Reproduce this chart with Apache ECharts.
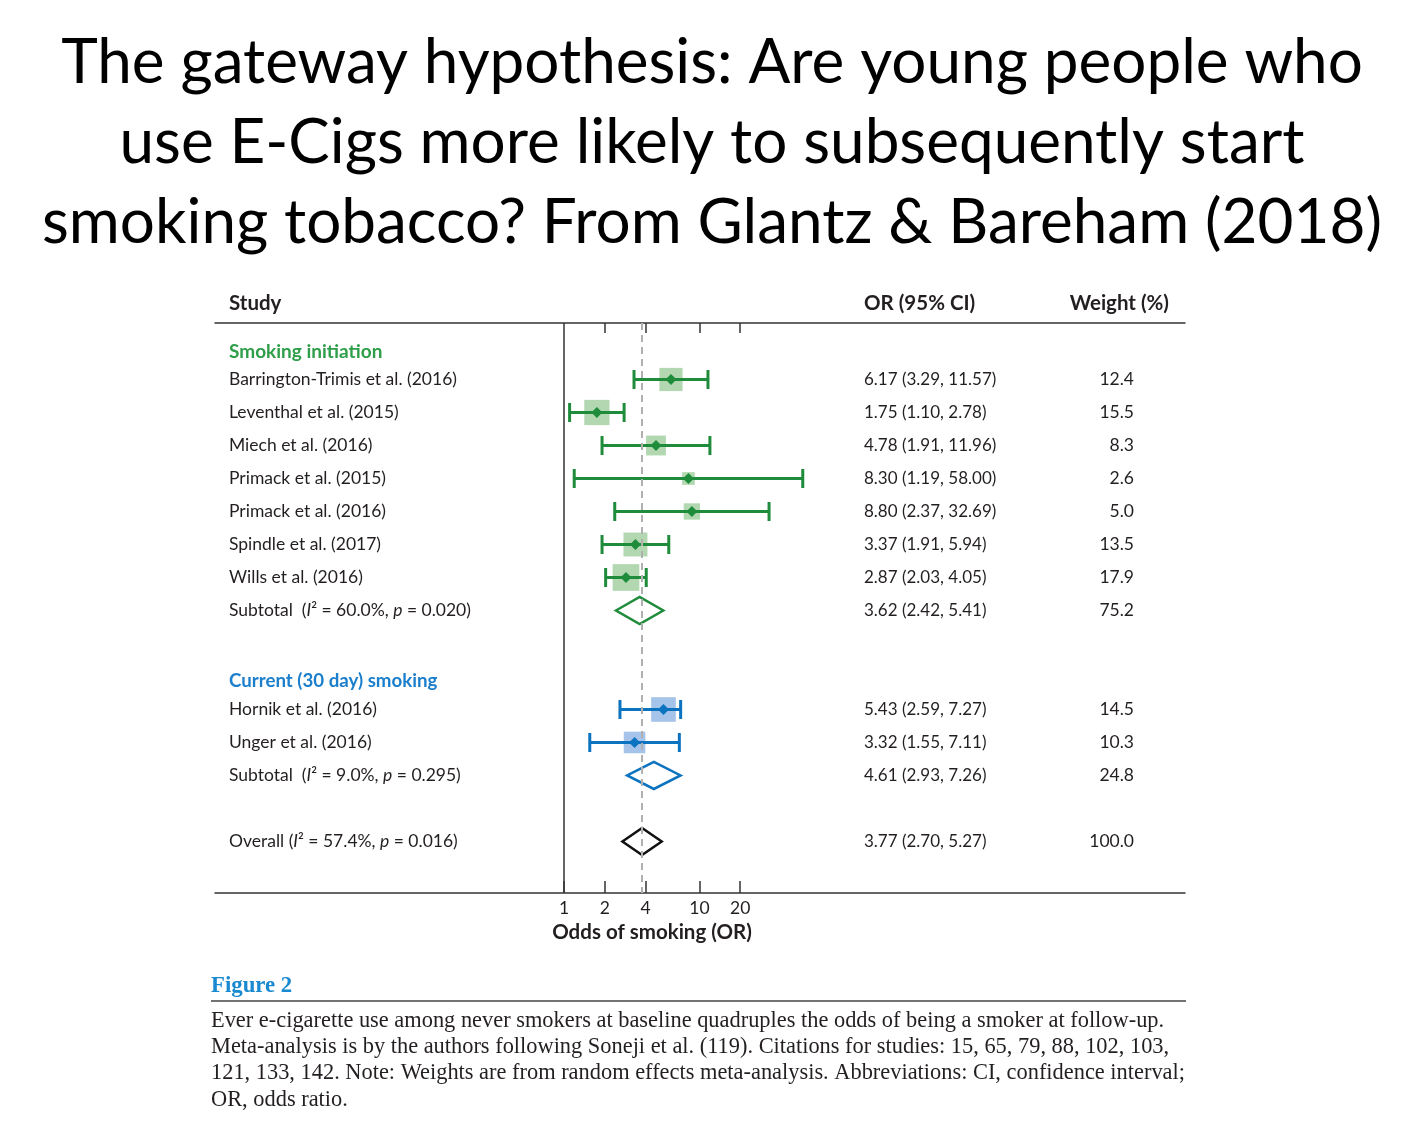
<!DOCTYPE html>
<html>
<head>
<meta charset="utf-8">
<script src="https://cdn.jsdelivr.net/npm/echarts@6/dist/echarts.min.js"></script>
<style>
html,body{margin:0;padding:0;background:#fff;}
#chart{width:1424px;height:1124px;}
</style>
</head>
<body>
<div id="chart"></div>
<script>
// ---------- DATA ----------
const titleLines = [
  'The gateway hypothesis: Are young people who',
  'use E-Cigs more likely to subsequently start',
  'smoking tobacco? From Glantz & Bareham (2018)'
];
const groupTitles = ['Smoking initiation', 'Current (30 day) smoking'];

const initStudies = ['Barrington-Trimis et al. (2016)', 'Leventhal et al. (2015)', 'Miech et al. (2016)',
  'Primack et al. (2015)', 'Primack et al. (2016)', 'Spindle et al. (2017)', 'Wills et al. (2016)'];
const initOR = [6.17, 1.75, 4.78, 8.30, 8.80, 3.37, 2.87];
const initLo = [3.29, 1.10, 1.91, 1.19, 2.37, 1.91, 2.03];
const initHi = [11.57, 2.78, 11.96, 58.00, 32.69, 5.94, 4.05];
const initWeight = [12.4, 15.5, 8.3, 2.6, 5.0, 13.5, 17.9];

const currStudies = ['Hornik et al. (2016)', 'Unger et al. (2016)'];
const currOR = [5.43, 3.32];
const currLo = [2.59, 1.55];
const currHi = [7.27, 7.11];
const currWeight = [14.5, 10.3];

const pooledNames = ['Subtotal', 'Subtotal', 'Overall'];
const pooledI2 = ['60.0%', '9.0%', '57.4%'];
const pooledP = ['0.020', '0.295', '0.016'];
const pooledOR = [3.62, 4.61, 3.77];
const pooledLo = [2.42, 2.93, 2.70];
const pooledHi = [5.41, 7.26, 5.27];
const pooledWeight = [75.2, 24.8, 100.0];

const xTicks = [1, 2, 4, 10, 20];
const xTopTicks = [2, 4, 10, 20];
const xAxisName = 'Odds of smoking (OR)';
const headers = ['Study', 'OR (95% CI)', 'Weight (%)'];

const figureLabel = 'Figure 2';
const captionLines = [
  'Ever e-cigarette use among never smokers at baseline quadruples the odds of being a smoker at follow-up.',
  'Meta-analysis is by the authors following Soneji et al. (119). Citations for studies: 15, 65, 79, 88, 102, 103,',
  '121, 133, 142. Note: Weights are from random effects meta-analysis. Abbreviations: CI, confidence interval;',
  'OR, odds ratio.'
];

// ---------- STYLE ----------
const TXT = '#231f20';
const GREEN = '#1f8c3c', GREEN_FILL = '#b3d8b1', GREEN_HEAD = '#2e9e49';
const BLUE = '#0b73bf', BLUE_FILL = '#a6c4e9', BLUE_HEAD = '#1b7fcc';
const TFONT = 'Lato';
const TSIZE = 17.5;
const HEAD_SHIFT = 0.15; // group headings sit slightly lower than their row

// ---------- ROW LAYOUT (built from data) ----------
const rowLabel = {}, rowOR = {}, rowW = {};
const studyData = [];   // [or, lo, hi, row, weight, group]
const pooledData = [];  // [or, lo, hi, row, group]
function fmtCI(o, l, h) { return o.toFixed(2) + ' (' + l.toFixed(2) + ', ' + h.toFixed(2) + ')'; }
function pooledLabel(i) {
  return '{t|' + pooledNames[i] + (i === 2 ? ' ' : '  ') + '(}{i|I}{t|² = ' + pooledI2[i] + ', }{i|p}{t| = ' + pooledP[i] + ')}';
}
let r = 0;
rowLabel[r + HEAD_SHIFT] = '{ga|' + groupTitles[0] + '}'; r++;
initStudies.forEach((s, i) => {
  rowLabel[r] = '{t|' + s + '}';
  rowOR[r] = fmtCI(initOR[i], initLo[i], initHi[i]);
  rowW[r] = initWeight[i].toFixed(1);
  studyData.push([initOR[i], initLo[i], initHi[i], r, initWeight[i], 0]);
  r++;
});
rowLabel[r] = pooledLabel(0); rowOR[r] = fmtCI(pooledOR[0], pooledLo[0], pooledHi[0]); rowW[r] = pooledWeight[0].toFixed(1);
pooledData.push([pooledOR[0], pooledLo[0], pooledHi[0], r, 0]); r++;
r++; // blank
rowLabel[r + HEAD_SHIFT] = '{gb|' + groupTitles[1] + '}'; r++;
currStudies.forEach((s, i) => {
  rowLabel[r] = '{t|' + s + '}';
  rowOR[r] = fmtCI(currOR[i], currLo[i], currHi[i]);
  rowW[r] = currWeight[i].toFixed(1);
  studyData.push([currOR[i], currLo[i], currHi[i], r, currWeight[i], 1]);
  r++;
});
rowLabel[r] = pooledLabel(1); rowOR[r] = fmtCI(pooledOR[1], pooledLo[1], pooledHi[1]); rowW[r] = pooledWeight[1].toFixed(1);
pooledData.push([pooledOR[1], pooledLo[1], pooledHi[1], r, 1]); r++;
r++; // blank
rowLabel[r] = pooledLabel(2); rowOR[r] = fmtCI(pooledOR[2], pooledLo[2], pooledHi[2]); rowW[r] = pooledWeight[2].toFixed(1);
pooledData.push([pooledOR[2], pooledLo[2], pooledHi[2], r, 2]); r++;

const labelRows = Object.keys(rowLabel).map(Number);
const orRows = Object.keys(rowOR).map(Number);
const wRows = Object.keys(rowW).map(Number);

// ---------- CHART ----------
const chart = echarts.init(document.getElementById('chart'), null, { renderer: 'canvas' });

const X_MIN = 0.002645, X_MAX = 38600;
const Y_MIN = -0.712, Y_MAX = 16.561;

const rich = {
  t: { fontFamily: TFONT, fontSize: TSIZE, color: TXT },
  i: { fontFamily: TFONT, fontSize: TSIZE, color: TXT, fontStyle: 'italic' },
  ga: { fontFamily: TFONT, fontSize: 19, color: GREEN_HEAD, fontWeight: 'bold' },
  gb: { fontFamily: TFONT, fontSize: 18.7, color: BLUE_HEAD, fontWeight: 'bold' }
};

function yBase(extra) {
  return Object.assign({
    type: 'value', inverse: true, min: Y_MIN, max: Y_MAX,
    axisLine: { show: false }, axisTick: { show: false }, splitLine: { show: false }
  }, extra);
}

function renderStudy(params, api) {
  const o = api.value(0), lo = api.value(1), hi = api.value(2), row = api.value(3), w = api.value(4), g = api.value(5);
  const c = api.coord([o, row]);
  const L = api.coord([lo, row]);
  const H = api.coord([hi, row]);
  const s = 8.8 * Math.pow(w, 0.385);
  const col = g === 0 ? GREEN : BLUE;
  const fill = g === 0 ? GREEN_FILL : BLUE_FILL;
  const d = 5.5, cap = 9.5;
  return {
    type: 'group',
    children: [
      { type: 'rect', shape: { x: c[0] - s / 2, y: c[1] - s / 2, width: s, height: s }, style: { fill: fill } },
      { type: 'line', shape: { x1: L[0], y1: L[1], x2: H[0], y2: H[1] }, style: { stroke: col, lineWidth: 3 } },
      { type: 'line', shape: { x1: L[0], y1: L[1] - cap, x2: L[0], y2: L[1] + cap }, style: { stroke: col, lineWidth: 3 } },
      { type: 'line', shape: { x1: H[0], y1: H[1] - cap, x2: H[0], y2: H[1] + cap }, style: { stroke: col, lineWidth: 3 } },
      { type: 'polygon', shape: { points: [[c[0] - d, c[1]], [c[0], c[1] - d], [c[0] + d, c[1]], [c[0], c[1] + d]] }, style: { fill: col } }
    ]
  };
}

function renderPooled(params, api) {
  const o = api.value(0), lo = api.value(1), hi = api.value(2), row = api.value(3), g = api.value(4);
  const c = api.coord([o, row]);
  const L = api.coord([lo, row]);
  const H = api.coord([hi, row]);
  const h = 13.5;
  const col = g === 0 ? GREEN : (g === 1 ? BLUE : '#111');
  return {
    type: 'polygon',
    shape: { points: [[L[0], L[1]], [c[0], c[1] - h], [H[0], H[1]], [c[0], c[1] + h]] },
    style: { fill: '#fff', stroke: col, lineWidth: 2.5 }
  };
}

const graphics = [];
titleLines.forEach((t, i) => {
  graphics.push({ type: 'text', x: 712, y: 63 + i * 80, style: { text: t, font: '62px Lato', fill: '#000', align: 'center', verticalAlign: 'middle' } });
});
graphics.push(
  { type: 'text', x: 229, y: 303, style: { text: headers[0], font: 'bold 20.5px ' + TFONT, fill: TXT, align: 'left', verticalAlign: 'middle' } },
  { type: 'text', x: 864, y: 303, style: { text: headers[1], font: 'bold 20.5px ' + TFONT, fill: TXT, align: 'left', verticalAlign: 'middle' } },
  { type: 'text', x: 1169, y: 303, style: { text: headers[2], font: 'bold 20.5px ' + TFONT, fill: TXT, align: 'right', verticalAlign: 'middle' } },
  { type: 'text', x: 652, y: 932, style: { text: xAxisName, font: 'bold 20.5px ' + TFONT, fill: TXT, align: 'center', verticalAlign: 'middle' } },
  { type: 'text', x: 211, y: 986, style: { text: figureLabel, font: 'bold 22.8px "Liberation Serif"', fill: '#1a8ad0', align: 'left', verticalAlign: 'middle' } },
  { type: 'line', shape: { x1: 211, y1: 1001, x2: 1186, y2: 1001 }, style: { stroke: '#444', lineWidth: 1.5 } }
);
captionLines.forEach((t, i) => {
  graphics.push({ type: 'text', x: 211, y: 1021 + i * 26.3, style: { text: t, font: '22.4px "Liberation Serif"', fill: TXT, align: 'left', verticalAlign: 'middle' } });
});

const option = {
  backgroundColor: '#fff',
  animation: false,
  grid: { left: 215, right: 239, top: 323, bottom: 231, containLabel: false },
  xAxis: [
    {
      type: 'log', logBase: Math.E, min: X_MIN, max: X_MAX, position: 'bottom',
      axisLine: { show: true, onZero: false, lineStyle: { color: '#333', width: 1.5 } },
      axisTick: { show: true, inside: true, length: 12, customValues: xTicks, lineStyle: { color: '#333', width: 1.5 } },
      axisLabel: { show: true, customValues: xTicks, margin: 6, formatter: v => String(Math.round(v)), fontFamily: TFONT, fontSize: TSIZE, color: TXT },
      splitLine: { show: false }, minorTick: { show: false }
    },
    {
      type: 'log', logBase: Math.E, min: X_MIN, max: X_MAX, position: 'top',
      axisLine: { show: true, onZero: false, lineStyle: { color: '#333', width: 1.5 } },
      axisTick: { show: true, inside: true, length: 10, customValues: xTopTicks, lineStyle: { color: '#333', width: 1.5 } },
      axisLabel: { show: false },
      splitLine: { show: false }
    }
  ],
  yAxis: [
    yBase({ position: 'left', axisLabel: { inside: true, margin: 14, customValues: labelRows, formatter: v => rowLabel[v] || '', rich: rich, fontFamily: TFONT, fontSize: TSIZE, color: TXT, verticalAlign: 'middle' } }),
    yBase({ position: 'left', axisLabel: { inside: true, margin: 649, customValues: orRows, formatter: v => rowOR[v] || '', fontFamily: TFONT, fontSize: 17, color: TXT, verticalAlign: 'middle' } }),
    yBase({ position: 'right', axisLabel: { inside: true, margin: 51, customValues: wRows, formatter: v => rowW[v] || '', fontFamily: TFONT, fontSize: TSIZE, color: TXT, verticalAlign: 'middle' } })
  ],
  graphic: graphics,
  series: [
    {
      type: 'custom', name: 'studies', xAxisIndex: 0, yAxisIndex: 0,
      encode: { x: [0, 1, 2], y: 3 },
      renderItem: renderStudy, data: studyData, silent: true, z: 3
    },
    {
      type: 'custom', name: 'pooled', xAxisIndex: 0, yAxisIndex: 0,
      encode: { x: [0, 1, 2], y: 3 },
      renderItem: renderPooled, data: pooledData, silent: true, z: 3,
      markLine: {
        silent: true, symbol: 'none', label: { show: false }, animation: false,
        data: [
          { xAxis: 1, lineStyle: { color: '#333', width: 1.5, type: 'solid' } },
          { xAxis: pooledOR[2], lineStyle: { color: '#b0b0b0', width: 2, type: [7, 5] } }
        ]
      }
    }
  ]
};
chart.setOption(option);
</script>
</body>
</html>
